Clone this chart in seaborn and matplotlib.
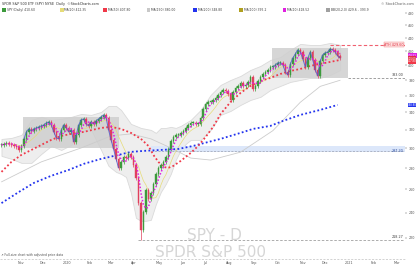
import numpy as np
import pandas as pd
import matplotlib
matplotlib.use("Agg")
import matplotlib.pyplot as plt
from matplotlib.patches import Rectangle
from matplotlib.ticker import FixedLocator, NullLocator, FixedFormatter
import seaborn as sns

sns.set_theme(style="white")
plt.rcParams['font.family'] = ['DejaVu Sans']

# ---------------- data ----------------
closes = [303.6, 304.6, 305.7, 304.6, 303.6, 302.5, 301.5, 298.3, 302.5, 310.0,
          317.6, 320.9, 318.7, 320.9, 322.0, 323.2, 324.3, 325.4, 327.7, 328.8,
          325.4, 317.6, 311.0, 310.0, 319.8, 325.4, 322.0, 317.6, 319.8, 306.8,
          314.3, 325.4, 331.1, 332.3, 326.5, 324.3, 328.8, 326.5, 330.0, 332.3,
          334.6, 336.9, 333.4, 319.8, 308.9, 299.3, 289.2, 280.3, 286.2, 291.2,
          290.2, 294.2, 291.2, 283.2, 270.7, 248.0, 226.0, 240.5, 259.6, 251.5,
          256.9, 265.1, 274.5, 280.3, 283.2, 286.2, 291.2, 299.3, 307.8, 312.1,
          314.3, 314.3, 316.5, 318.7, 322.0, 325.4, 327.7, 327.7, 326.5, 326.5,
          333.4, 344.0, 350.0, 352.4, 352.4, 354.9, 357.4, 361.1, 364.9, 367.4,
          366.1, 362.3, 354.9, 364.9, 370.0, 372.6, 376.5, 372.6, 373.9, 377.8,
          384.4, 368.7, 372.6, 379.1, 384.4, 388.4, 391.2, 393.9, 398.0, 398.0,
          400.8, 403.6, 403.6, 400.8, 391.2, 387.1, 402.2, 410.6, 416.4, 422.2,
          419.3, 409.3, 398.0, 410.6, 419.3, 407.8, 393.9, 385.8, 406.4, 415.0,
          417.9, 419.3, 423.7, 422.2, 419.3, 413.5, 410.6]
crash_low = 218.27

ma50_pos = [0, 4, 8, 12, 16, 20, 24, 28, 33, 40, 44, 48, 52, 56, 59, 61, 63, 65, 67,
            69, 72, 76, 79, 82, 85, 88, 92, 96, 100, 104, 108, 112, 116, 120, 124,
            128, 132, 136]
ma50_val = [276.4, 286.2, 293.2, 298.3, 303.6, 308.9, 313.2, 315.4, 317.6, 322.0,
            323.2, 320.9, 316.5, 310.0, 302.5, 293.2, 286.2, 281.2, 280.3, 282.2,
            287.2, 295.2, 302.5, 312.1, 323.2, 338.0, 352.4, 363.6, 372.6, 379.1,
            383.1, 388.4, 392.5, 395.2, 399.4, 402.2, 405.0, 407.8]

ma200_pos = [0, 7, 13, 20, 27, 33, 40, 47, 52, 57, 64, 71, 77, 80, 88, 96, 101,
             108, 113, 120, 128, 135]
ma200_val = [248.0, 257.8, 266.0, 272.7, 278.3, 284.2, 289.2, 293.2, 296.3, 297.3,
             298.3, 299.3, 302.5, 304.6, 310.0, 316.5, 320.9, 324.3, 329.9, 336.9,
             342.8, 348.8]

ma150_pos = [0, 16, 32, 44, 52, 60, 68, 76, 84, 96, 109, 120, 128, 136]
ma150_val = [267.0, 286.2, 300.4, 313.2, 315.4, 310.0, 300.4, 290.0, 288.0, 296.0,
             319.0, 352.0, 372.0, 380.0]

band_pos = [0, 4, 8, 12, 16, 20, 24, 28, 32, 36, 40, 43, 46, 48, 50, 52, 54, 56,
            58, 60, 62, 64, 66, 68, 70, 72, 74, 76, 80, 84, 88, 92, 96, 100, 104,
            108, 112, 116, 120, 124, 128, 132, 136]
band_upper = [309.9, 311.0, 314.3, 331.1, 334.6, 331.1, 332.3, 334.6, 338.0, 336.9,
              340.4, 347.6, 347.6, 342.8, 334.6, 326.5, 324.3, 322.0, 320.9, 319.8,
              316.5, 322.0, 322.0, 323.2, 322.0, 324.3, 327.7, 331.1, 342.8, 361.1,
              373.9, 380.4, 385.8, 393.9, 399.4, 407.8, 411.9, 422.2, 431.1, 429.6,
              429.6, 432.6, 429.6]
band_lower = [292.2, 289.2, 285.2, 285.2, 294.2, 302.5, 298.3, 303.6, 317.6, 319.8,
              298.3, 282.2, 276.4, 274.5, 271.6, 256.9, 235.6, 233.2, 233.2, 234.0,
              247.1, 257.8, 265.1, 274.5, 288.2, 298.3, 304.6, 308.9, 308.9, 319.8,
              336.9, 341.6, 348.8, 354.9, 358.7, 367.4, 372.6, 377.8, 380.4, 383.1,
              383.1, 387.1, 393.9]

box_spans = [(8.8, 47.2, 300.4, 334.6), (108.8, 139.2, 383.0, 425.1)]
ath_level = 429.6
support_level = 383.0
zone_low, zone_high, zone_mid = 296.3, 302.5, 297.3

month_pos = [8, 16.8, 26.4, 35.2, 44, 53.2, 63.2, 72.8, 82, 91.6, 101.2, 110.8,
             121.2, 130, 139.6, 149.6, 158.8]
month_lbl = ["Nov", "Dec", "2020", "Feb", "Mar", "Apr", "May", "Jun", "Jul", "Aug",
             "Sep", "Oct", "Nov", "Dec", "2021", "Feb", "Mar"]
price_ticks = [220, 240, 260, 280, 300, 320, 340, 360, 380, 400, 420, 440, 460, 480]

tag_values = [418.52, 410.60, 407.80, 348.80]
tag_labels = ["418.52", "410.60", "407.80", "348.80"]

# ---------------- figure ----------------
fig = plt.figure(figsize=(4.2, 2.65), dpi=100)
ax = fig.add_axes([0.0, 0.023, 0.964, 0.943])
ax.set_yscale('log')
ymin, ymax = 204.3, 486.7
ax.set_ylim(ymin, ymax)
xmax = 162
ax.set_xlim(-0.6, xmax)

df = pd.DataFrame({"session": np.arange(len(closes)), "close": closes})
df["open"] = df["close"].shift(1).fillna(df["close"])
df["ma10"] = df["close"].rolling(4, min_periods=1).mean()
df["ma20"] = df["close"].rolling(8, min_periods=1).mean()

# band
ax.fill_between(band_pos, band_lower, band_upper, color="#eeeeee", lw=0.6,
                edgecolor="#dadada", zorder=1)
# zone
ax.fill_between([60, xmax], [zone_low] * 2, [zone_high] * 2, color="#dce7fa", lw=0, zorder=1)
ax.plot([60, xmax], [zone_mid] * 2, color="#9aa0b0", lw=0.5, ls=(0, (3, 2)), zorder=2)
# boxes
for x0, x1, y0, y1 in box_spans:
    ax.add_patch(Rectangle((x0, y0), x1 - x0, y1 - y0, facecolor="#cfcfcf",
                           edgecolor="none", alpha=0.85, zorder=2))

# moving averages
sns.lineplot(x=ma150_pos, y=ma150_val, ax=ax, color="#cccccc", lw=0.6, zorder=3)
sns.lineplot(x=df["session"], y=df["ma20"], ax=ax, color="#e6dc78", lw=0.5, zorder=3)
sns.lineplot(x=ma200_pos, y=ma200_val, ax=ax, color="#2233ee", lw=1.3,
             linestyle=(0, (1, 1.3)), zorder=4)
sns.lineplot(x=ma50_pos, y=ma50_val, ax=ax, color="#f03848", lw=1.3,
             linestyle=(0, (1, 1.3)), zorder=4)

# candles
for i, r in df.iterrows():
    c = "#3c9a3c" if r["close"] >= r["open"] else "#e0405c"
    lo = min(r["open"], r["close"]) * 0.994
    hi = max(r["open"], r["close"]) * 1.006
    if r["close"] == min(closes):
        lo = crash_low
    ax.vlines(r["session"], lo, hi, color=c, lw=0.5, zorder=5)
    b0 = min(r["open"], r["close"]); b1 = max(r["open"], r["close"])
    if b1 - b0 < 0.6:
        b1 = b0 + 0.6
    ax.add_patch(Rectangle((r["session"] - 0.3, b0), 0.6, b1 - b0, facecolor=c,
                           edgecolor=c, lw=0.3, zorder=6))

# blue price line in boxes
for x0, x1, _, _ in box_spans:
    seg = df[(df["session"] >= x0) & (df["session"] <= x1)]
    ax.plot(seg["session"], seg["close"], color="#4a5ad0", lw=0.7, alpha=0.8, zorder=7)

sns.lineplot(x=df["session"], y=df["ma10"], ax=ax, color="#e020e0", lw=1.1,
             linestyle=(0, (1, 1.2)), zorder=8)

# horizontal levels
ax.plot([132, xmax], [ath_level] * 2, color="#f06070", lw=0.8, ls=(0, (3, 2)), zorder=3)
ax.plot([139, xmax], [support_level] * 2, color="#909090", lw=0.6, ls=(0, (3, 2)), zorder=3)
ax.plot([55, xmax], [crash_low] * 2, color="#a0a0a0", lw=0.6, ls=(0, (3, 2)), zorder=3)

# level labels
ax.text(xmax - 0.5, ath_level, "ATH 429.60", fontsize=2.4, color="#e03040",
        ha="right", va="center",
        bbox=dict(boxstyle="square,pad=0.15", fc="#fde0e0", ec="#f08080", lw=0.3), zorder=9)
ax.text(xmax - 0.5, support_level * 1.004, "383.00", fontsize=2.4, color="#404040",
        ha="right", va="bottom", zorder=9)
ax.text(xmax - 0.5, zone_mid, "297.30", fontsize=2.4, color="#3050a0",
        ha="right", va="center", zorder=9)
ax.text(xmax - 0.5, crash_low * 1.003, "218.27", fontsize=2.4, color="#404040",
        ha="right", va="bottom", zorder=9)

# watermark
ax.text(0.53, 0.095, "SPY - D", transform=ax.transAxes, fontsize=11, color="#d6d6d6",
        ha="center", va="center", zorder=0)
ax.text(0.52, 0.025, "SPDR S&P 500", transform=ax.transAxes, fontsize=11, color="#d6d6d6",
        ha="center", va="center", zorder=0)

# axes styling
for s in ax.spines.values():
    s.set_visible(False)
ax.axvline(xmax, color="#c0c0c0", lw=0.6)
ax.plot([-0.6, xmax], [ymin * 1.001] * 2, color="#c0c0c0", lw=0.5, ls=(0, (3, 2)), clip_on=False)
ax.yaxis.tick_right()
ax.yaxis.set_major_locator(FixedLocator(price_ticks))
ax.yaxis.set_major_formatter(FixedFormatter([str(v) for v in price_ticks]))
ax.yaxis.set_minor_locator(NullLocator())
ax.tick_params(axis='y', labelsize=2.4, colors="#555555", length=1.5, width=0.3, pad=1)
ax.set_xticks(month_pos)
ax.set_xticklabels(month_lbl)
ax.tick_params(axis='x', labelsize=2.4, colors="#555555", length=1.2, width=0.3, pad=0.5)
ax.set_xlabel(""); ax.set_ylabel("")

# right-axis value tags (nudged in points so they sit between the tick labels)
tag_colors = ["#e020e0", "#e03040", "#f03848", "#2233ee"]
tag_offsets_pt = [-2.2, -0.4, -1.1, 0]
for v, t, c, off in zip(tag_values, tag_labels, tag_colors, tag_offsets_pt):
    ax.annotate(t, xy=(xmax, v), xytext=(2, off), textcoords="offset points",
                fontsize=1.8, color="white", ha="left", va="center",
                bbox=dict(boxstyle="square,pad=0.03", fc=c, ec="none"),
                annotation_clip=False, zorder=10)

# header
fig.text(0.005, 0.992, "SPDR S&P 500 ETF (SPY) NYSE  Daily  ©StockCharts.com",
         fontsize=2.4, color="#303030", ha="left", va="top")
fig.text(0.985, 0.992, "© StockCharts.com", fontsize=2.4, color="#606060", ha="right", va="top")
legend_items = [("#3c9a3c", "SPY (Daily) 410.60"), ("#e6dc78", "MA(20) 412.35"),
                ("#f03848", "MA(50) 407.80"), ("#c8c8c8", "MA(150) 380.00"),
                ("#2233ee", "MA(200) 348.80"), ("#b0a020", "MA(100) 395.2"),
                ("#e020e0", "MA(10) 418.52"), ("#a0a0a0", "BB(20,2.0) 429.6 - 393.9")]
xx = 0.005
for c, t in legend_items:
    fig.patches.append(Rectangle((xx, 0.955), 0.009, 0.014, transform=fig.transFigure,
                                 facecolor=c, edgecolor="none"))
    fig.text(xx + 0.011, 0.962, t, fontsize=2.2, color="#404040", ha="left", va="center")
    xx += 0.015 + len(t) * 0.0068
fig.text(0.003, 0.03, "↗ Full-size chart with adjusted price data", fontsize=2.2,
         color="#505050", ha="left", va="bottom")

fig.savefig("out.png", dpi=100, facecolor="white")
